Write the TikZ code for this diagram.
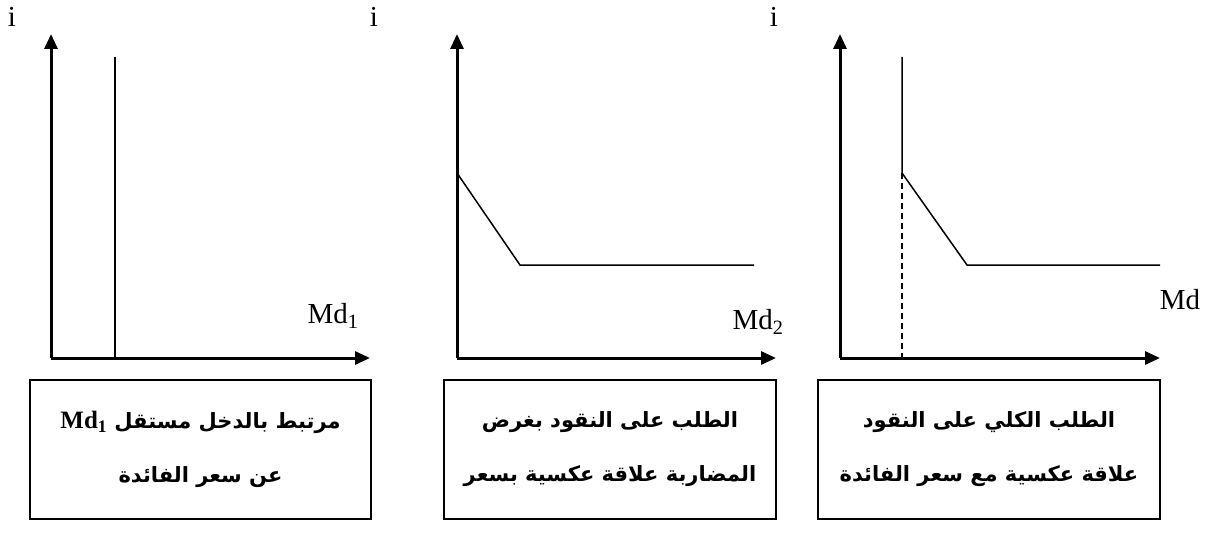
\documentclass[tikz,border=0pt]{standalone}
\usepackage{fontspec}
\setmainfont{Liberation Serif}
\newfontfamily\arabicfont[Script=Arabic]{DejaVu Sans}
\TeXXeTstate=1
\usetikzlibrary{arrows.meta}
\tikzset{
  axis/.style={line width=3pt,-{Triangle[length=15pt,width=13pt]}},
  curve/.style={line width=1.5pt},
  capbox/.style={draw,line width=1.5pt,align=center,inner sep=0pt,
    font=\arabicfont\bfseries\fontsize{21}{54}\selectfont},
  lbl/.style={font=\fontsize{29}{30}\selectfont,inner sep=0pt}
}
\begin{document}
\begin{tikzpicture}[x=1pt,y=1pt]
\useasboundingbox (0,0) rectangle (1211,-543);
% origins
\coordinate (o1) at (51,-358);
\coordinate (t1) at (51,-34);
\coordinate (r1) at (370,-358);
\coordinate (o2) at (457,-358);
\coordinate (t2) at (457,-34);
\coordinate (r2) at (776,-358);
\coordinate (o3) at (840,-358);
\coordinate (t3) at (840,-34);
\coordinate (r3) at (1160,-358);
% axes
\draw[axis] (o1) -- (t1);
\draw[axis] (o1) -- (r1);
\draw[axis] (o2) -- (t2);
\draw[axis] (o2) -- (r2);
\draw[axis] (o3) -- (t3);
\draw[axis] (o3) -- (r3);
% panel 1 curve
\coordinate (a1) at (115,-57);
\coordinate (b1) at (115,-358);
\draw[curve] (a1) -- (b1);
% panel 2 curve
\coordinate (a2) at (457,-173);
\coordinate (k2) at (520,-265);
\coordinate (e2) at (754,-265);
\draw[curve] (a2) -- (k2) -- (e2);
% panel 3 curve
\coordinate (a3) at (902,-57);
\coordinate (m3) at (902,-173);
\coordinate (k3) at (967,-265);
\coordinate (e3) at (1160,-265);
\coordinate (b3) at (902,-358);
\draw[curve] (a3) -- (m3) -- (k3) -- (e3);
\draw[curve,dashed,dash pattern=on 6pt off 4pt] (m3) -- (b3);
% labels
\node[lbl] (i1) at (12,-17) {i};
\node[lbl] (i2) at (374,-17) {i};
\node[lbl] (i3) at (774,-17) {i};
\node[lbl] (md1) at (333,-316) {Md\textsubscript{1}};
\node[lbl] (md2) at (758,-322) {Md\textsubscript{2}};
\node[lbl] (md3) at (1180,-300) {Md};
% boxes
\node[capbox,minimum width=341pt,minimum height=139pt] (box1) at (200.5,-449.5)
 {\beginR مرتبط بالدخل مستقل {\rmfamily\bfseries\fontsize{25}{54}\selectfont\beginL Md\textsubscript{1}\endL}\endR\\ \beginR عن سعر الفائدة\endR};
\node[capbox,minimum width=332pt,minimum height=139pt] (box2) at (610,-449.5)
 {\beginR الطلب على النقود بغرض\endR\\ \beginR المضاربة علاقة عكسية بسعر\endR};
\node[capbox,minimum width=342pt,minimum height=139pt] (box3) at (989,-449.5)
 {\beginR الطلب الكلي على النقود\endR\\ \beginR علاقة عكسية مع سعر الفائدة\endR};
\end{tikzpicture}
\end{document}
